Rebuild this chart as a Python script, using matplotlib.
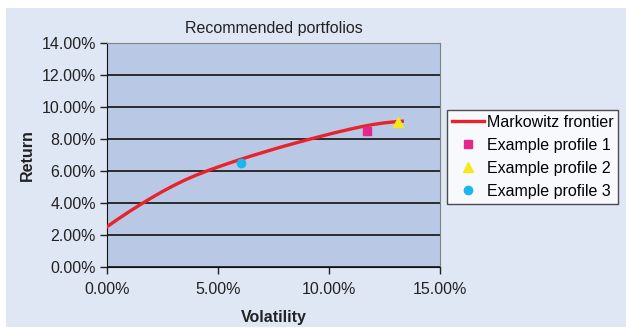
import matplotlib.pyplot as plt
from matplotlib.patches import Rectangle
from matplotlib.ticker import PercentFormatter

plt.rcParams['font.family'] = ['Liberation Sans', 'DejaVu Sans']

# efficient frontier (volatility, return) in percent
frontier_vol = [0.0, 0.5, 1.0, 1.5, 2.0, 2.5, 3.0, 3.5, 4.0, 4.5, 5.0, 5.5, 6.0, 6.5,
                7.0, 7.5, 8.0, 8.5, 9.0, 9.5, 10.0, 10.5, 11.0, 11.5, 12.0, 12.5, 13.0, 13.3]
frontier_ret = [2.52, 3.00, 3.46, 3.90, 4.32, 4.72, 5.09, 5.43, 5.73, 6.00, 6.25, 6.49, 6.72, 6.94,
                7.15, 7.36, 7.56, 7.75, 7.94, 8.12, 8.30, 8.47, 8.63, 8.78, 8.91, 9.01, 9.08, 9.11]

profile_names = ['Example profile 1', 'Example profile 2', 'Example profile 3']
profile_vol = [11.70, 13.10, 6.04]
profile_ret = [8.52, 9.04, 6.48]

fig = plt.figure(figsize=(6.26, 3.28), dpi=100)
fig.patch.set_facecolor('white')
fig.add_artist(Rectangle((6 / 626, 1 / 328), 620 / 626, 319 / 328,
                         transform=fig.transFigure, facecolor='#dfe6f4',
                         edgecolor='none', zorder=-10))

ax = fig.add_axes([107 / 626, 1 - 267 / 328, 333 / 626, 224 / 328])
ax.set_facecolor('#b9c8e5')

ax.plot(frontier_vol, frontier_ret, color='#e8232a', lw=2.4, label='Markowitz frontier', zorder=3)
ax.plot(profile_vol[0], profile_ret[0], 's', color='#e6268f', ms=6, label=profile_names[0], zorder=4)
ax.plot(profile_vol[1], profile_ret[1], '^', color='#f7e81a', ms=7, label=profile_names[1], zorder=4)
ax.plot(profile_vol[2], profile_ret[2], 'o', color='#1ab6ec', ms=6, label=profile_names[2], zorder=4)

ax.set_xlim(0, 15)
ax.set_ylim(0, 14)
ax.set_xticks([0, 5, 10, 15])
ax.set_yticks(range(0, 15, 2))
ax.xaxis.set_major_formatter(PercentFormatter(decimals=2))
ax.yaxis.set_major_formatter(PercentFormatter(decimals=2))
ax.tick_params(labelsize=11.5, colors='#222222', length=5, width=1, direction='out')
ax.tick_params(axis='x', pad=6)
ax.tick_params(axis='y', pad=3)

ax.grid(axis='y', color='#111111', lw=1.2)
ax.set_axisbelow(True)
for s in ['top', 'right']:
    ax.spines[s].set_color('#808080')
for s in ['left', 'bottom']:
    ax.spines[s].set_color('#111111')

ax.set_title('Recommended portfolios', fontsize=11.5, pad=7, color='#222222')
ax.set_xlabel('Volatility', fontsize=11.5, fontweight='bold', labelpad=9, color='#222222')
ax.set_ylabel('Return', fontsize=11.5, fontweight='bold', labelpad=5, color='#222222')

leg = fig.legend(loc='upper left', bbox_to_anchor=(447 / 626, 1 - 110 / 328),
                 fontsize=11.5, frameon=True, fancybox=False, handlelength=2.0,
                 handletextpad=0.2, labelspacing=0.5, borderpad=0.3, borderaxespad=0)
leg.get_frame().set_edgecolor('#222222')
leg.get_frame().set_linewidth(1)

fig.savefig('out.png', dpi=100, facecolor=fig.get_facecolor())
